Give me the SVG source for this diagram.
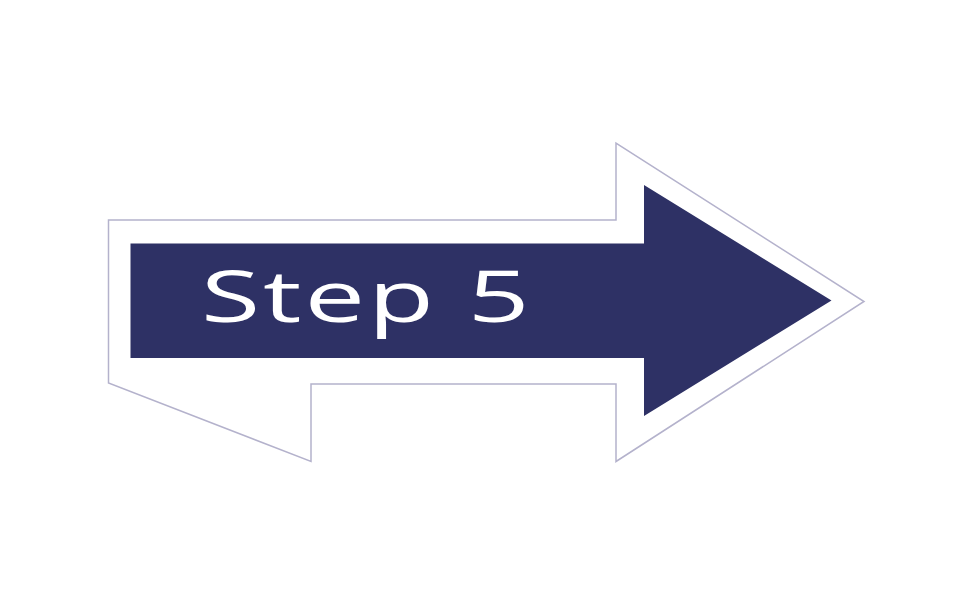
<svg xmlns="http://www.w3.org/2000/svg" width="960" height="606" viewBox="0 0 960 606">
<style>
.outer{fill:#ffffff;stroke:#b4b2cc;stroke-width:1.5;stroke-linejoin:miter}
.inner{fill:#2e3165}
.lbl{font-family:"Open Sans","Noto Sans",sans-serif;font-size:72px;font-weight:500;fill:#ffffff}
</style>
<rect width="960" height="606" fill="#ffffff"/>
<g id="arrow">
<polygon class="outer" points="108.5,220 616,220 616,143 864,301.5 616,461.5 616,384 311,384 311,461.5 108.5,383"/>
<polygon class="inner" points="130.5,243.5 644,243.5 644,185 831.5,300.5 644,416 644,358 130.5,358"/>
<text class="lbl" transform="translate(201,321.5) scale(1.5,1)" x="0" y="0" textLength="219" lengthAdjust="spacing">Step 5</text>
</g>
</svg>
